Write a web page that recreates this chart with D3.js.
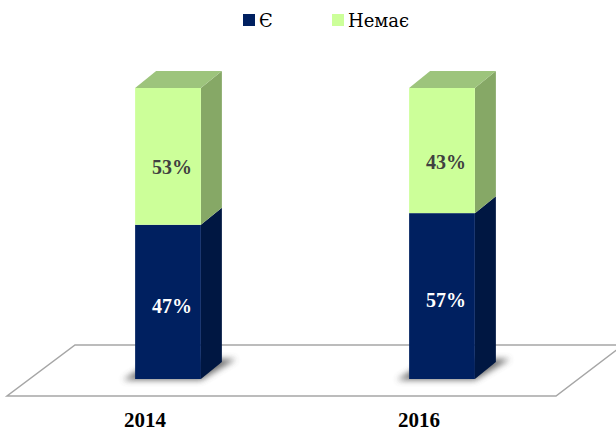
<!DOCTYPE html>
<html>
<head>
<meta charset="utf-8">
<script src="https://cdn.jsdelivr.net/npm/d3@7"></script>
<style>
  body { margin: 0; background: #fff; }
  svg { display: block; }
  text { font-family: "Liberation Serif", "Times New Roman", "DejaVu Serif", serif; }
  text.legend { font-family: "DejaVu Serif", serif; }
</style>
</head>
<body>
<svg id="svg" width="616" height="432"></svg>
<script>
const years = ["2014", "2016"];
const seriesNames = ["Є", "Немає"];
// bar heights as drawn in the picture (2014 is drawn 53/47 but labelled 47/53)
const yesValues = [53, 57];
const noValues = [47, 43];
const yesLabels = ["47%", "57%"];
const noLabels = ["53%", "43%"];

const svg = d3.select("#svg");
const dx = 21, dy = 17;

const x = d3.scaleBand().domain(years).range([31, 579]).paddingInner(0.76).paddingOuter(0.38);
const y = d3.scaleLinear().domain([0, 100]).range([379, 88]);
const bw = x.bandwidth();

const rows = years.map((yr, i) => ({ year: yr, yes: yesValues[i], no: noValues[i], i: i }));
const stacked = d3.stack().keys(["yes", "no"])(rows);

const frontColor = { yes: "#002060", no: "#ccff99" };
const sideColor = { yes: "#001742", no: "#86a866" };
const topColor = { yes: "#1a3a7a", no: "#9dc47c" };
const labelColor = { yes: "#ffffff", no: "#404040" };
const labels = { yes: yesLabels, no: noLabels };

const defs = svg.append("defs");
defs.append("filter").attr("id", "blur")
    .attr("x", "-50%").attr("y", "-50%").attr("width", "200%").attr("height", "200%")
    .append("feGaussianBlur").attr("stdDeviation", 3);

// floor
const y0 = y(0);
const floorPts = [
    [x.range()[0] - 24, y0 + 17],
    [x.range()[1] - 23, y0 + 17],
    [x.range()[1] + 44, y0 - 34],
    [x.range()[0] + 44, y0 - 34]
];
svg.append("polygon")
    .attr("points", floorPts.map(p => p.join(",")).join(" "))
    .attr("fill", "#fff")
    .attr("stroke", "#a6a6a6")
    .attr("stroke-width", 1.5);

// shadows under bars
svg.append("g").selectAll("polygon").data(rows).join("polygon")
    .attr("points", d => {
        const x0 = x(d.year);
        return [[x0 - 12, y0 + 1], [x0 + bw, y0 + 1], [x0 + bw + dx + 14, y0 - dy - 3], [x0 + dx, y0 - dy - 3]]
            .map(p => p.join(",")).join(" ");
    })
    .attr("fill", "#555")
    .attr("opacity", 0.85)
    .attr("filter", "url(#blur)");

// bars
stacked.forEach((layer, li) => {
    const key = layer.key;
    const g = svg.append("g");
    layer.forEach(seg => {
        const x0 = x(seg.data.year);
        const yb = y(seg[0]), yt = y(seg[1]);
        g.append("polygon")
            .attr("points", [[x0 + bw, yt], [x0 + bw + dx, yt - dy], [x0 + bw + dx, yb - dy], [x0 + bw, yb]].map(p => p.join(",")).join(" "))
            .attr("fill", sideColor[key]);
        g.append("rect")
            .attr("x", x0).attr("y", yt)
            .attr("width", bw).attr("height", yb - yt)
            .attr("fill", frontColor[key]);
        if (li === stacked.length - 1) {
            g.append("polygon")
                .attr("points", [[x0, yt], [x0 + bw, yt], [x0 + bw + dx, yt - dy], [x0 + dx, yt - dy]].map(p => p.join(",")).join(" "))
                .attr("fill", topColor[key]);
        }
    });
});

// data labels
stacked.forEach(layer => {
    const key = layer.key;
    svg.append("g").selectAll("text").data(layer).join("text")
        .attr("x", d => x(d.data.year) + bw / 2 + 4)
        .attr("y", d => (y(d[0]) + y(d[1])) / 2 + (key === "no" ? 11 : 4))
        .attr("dy", "0.35em")
        .attr("text-anchor", "middle")
        .attr("font-weight", "bold")
        .attr("font-size", 20)
        .attr("fill", labelColor[key])
        .text(d => labels[key][d.data.i]);
});

// category labels
svg.append("g").selectAll("text").data(years).join("text")
    .attr("x", d => x(d) + bw / 2 - 23)
    .attr("y", 427)
    .attr("text-anchor", "middle")
    .attr("font-weight", "bold")
    .attr("font-size", 21)
    .attr("fill", "#000")
    .text(d => d);

// legend
const legendX = [243, 332];
const legend = svg.append("g").selectAll("g").data(seriesNames).join("g")
    .attr("transform", (d, i) => `translate(${legendX[i]},14)`);
legend.append("rect")
    .attr("width", 12).attr("height", 12)
    .attr("fill", (d, i) => i === 0 ? frontColor.yes : frontColor.no);
legend.append("text")
    .attr("class", "legend")
    .attr("x", 16).attr("y", 13)
    .attr("font-size", 18)
    .attr("fill", "#000")
    .text(d => d);
</script>
</body>
</html>
